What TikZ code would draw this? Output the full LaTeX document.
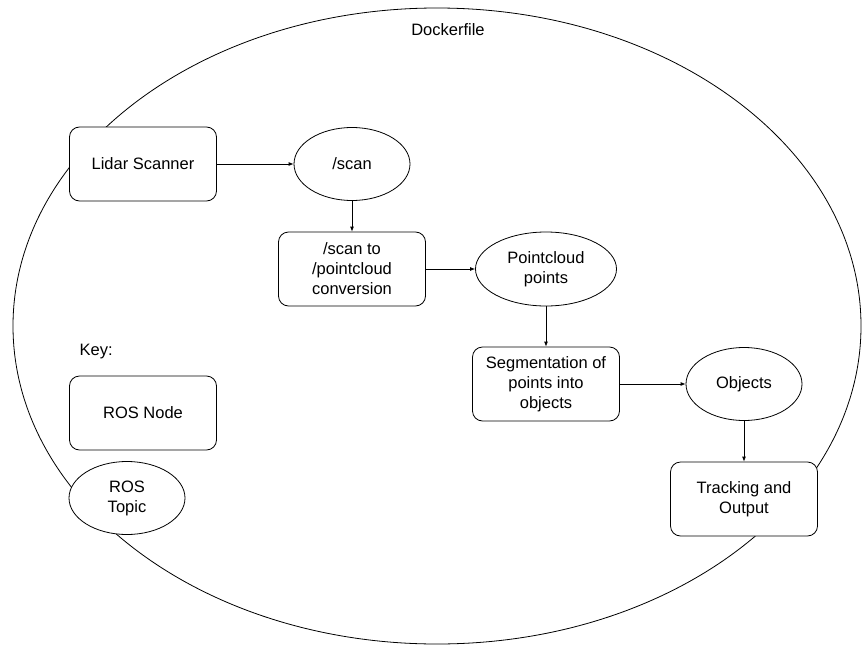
\documentclass[tikz,border=0pt]{standalone}
\usepackage{fontspec}
\setmainfont{Liberation Sans}
\usetikzlibrary{arrows.meta,shapes.geometric}

\tikzset{
  rosnode/.style={draw,fill=white,rounded corners=10pt,minimum width=147pt,minimum height=74pt,align=center},
  rostopic/.style={draw,fill=white,ellipse,inner sep=0pt,minimum width=116pt,minimum height=73pt,align=center},
  flow/.style={-{Latex[length=5pt,width=4pt]}}
}

\begin{document}
\begin{tikzpicture}[x=1pt,y=-1pt,line width=0.8pt,font=\fontsize{16.5}{20}\selectfont]
\useasboundingbox (0,0) rectangle (862,645);
\draw (437,326) ellipse [x radius=424, y radius=318];
\node (docker) at (448,30) {Dockerfile};
% pipeline
\node[rosnode] (lidar) at (143,164) {Lidar Scanner};
\node[rostopic] (scan) at (352,164) {/scan};
\node[rosnode] (convert) at (352,269) {/scan to\\/pointcloud\\conversion};
\node[rostopic,minimum width=141pt,minimum height=74pt] (cloud) at (546,269) {Pointcloud\\points};
\node[rosnode] (segment) at (546,384) {Segmentation of\\points into\\objects};
\node[rostopic] (objects) at (744,384) {Objects};
\node[rosnode] (track) at (744,499) {Tracking and\\Output};
\draw[flow] (lidar) -- (scan);
\draw[flow] (scan) -- (convert);
\draw[flow] (convert) -- (cloud);
\draw[flow] (cloud) -- (segment);
\draw[flow] (segment) -- (objects);
\draw[flow] (objects) -- (track);
% key
\node[anchor=west] (key) at (76,352) {Key:};
\node[rosnode] (keynode) at (143,413) {ROS Node};
\node[rostopic] (keytopic) at (127,498) {ROS\\Topic};
\end{tikzpicture}
\end{document}
